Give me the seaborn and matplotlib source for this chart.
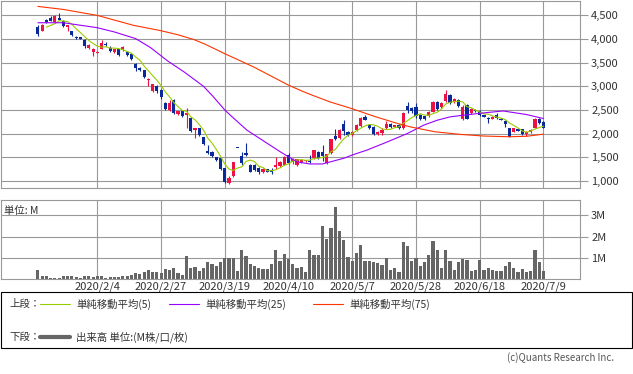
import numpy as np
import pandas as pd
import matplotlib
matplotlib.use("Agg")
import matplotlib.pyplot as plt
import seaborn as sns
from matplotlib.lines import Line2D
from matplotlib.patches import Rectangle

# trading-day index, 0 = 2020/2/4
day_index = list(range(-14, 106))

opens = [
    4250, 4180, 4400, 4440, 4370, 4440, 4390, 4260, 4160, 4050,
    4040, 3990, 3810, 3730, 3710, 3800, 3900, 3810, 3720, 3780,
    3760, 3730, 3690, 3470, 3380, 3340, 3130, 2905, 3010, 2930,
    2650, 2500, 2720, 2410, 2480, 2390, 2340, 2075, 2110, 1920,
    1640, 1620, 1500, 1480, 1270, 960, 1105, 1702, 1520, 1590,
    1340, 1340, 1270, 1180, 1250, 1230, 1290, 1310, 1340, 1560,
    1400, 1340, 1410, 1420, 1420, 1480, 1620, 1620, 1375, 1590,
    1950, 1900, 2200, 2030, 1970, 2070, 2160, 2360, 2180, 2150,
    1990, 2020, 2130, 2200, 2150, 2190, 2110, 2580, 2540, 2560,
    2400, 2370, 2370, 2460, 2670, 2570, 2700, 2810, 2660, 2720,
    2320, 2600, 2430, 2510, 2480, 2390, 2340, 2320, 2400, 2320,
    2270, 2110, 2040, 2100, 2090, 1990, 2030, 2130, 2320, 2250,
]
highs = [
    4300, 4310, 4420, 4490, 4510, 4560, 4410, 4300, 4180, 4060,
    4050, 4000, 3890, 3810, 3740, 3970, 3930, 3850, 3800, 3800,
    3860, 3750, 3700, 3490, 3400, 3350, 3170, 3060, 3030, 2950,
    2670, 2710, 2740, 2490, 2500, 2545, 2350, 2120, 2130, 1940,
    1760, 1640, 1510, 1490, 1280, 1110, 1410, 1702, 1620, 1800,
    1360, 1360, 1290, 1270, 1260, 1280, 1510, 1420, 1520, 1600,
    1480, 1470, 1460, 1450, 1560, 1660, 1640, 1760, 1580, 1890,
    2100, 2100, 2280, 2060, 2060, 2200, 2360, 2400, 2200, 2170,
    2050, 2110, 2260, 2230, 2190, 2200, 2450, 2660, 2570, 2640,
    2420, 2380, 2470, 2700, 2690, 2670, 2920, 2830, 2760, 2740,
    2600, 2620, 2540, 2530, 2510, 2400, 2350, 2370, 2430, 2330,
    2280, 2120, 2120, 2110, 2100, 2050, 2090, 2330, 2340, 2270,
]
lows = [
    4070, 4160, 4340, 4380, 4340, 4400, 4250, 4160, 4060, 4010,
    4000, 3820, 3790, 3640, 3700, 3780, 3860, 3720, 3700, 3650,
    3740, 3640, 3550, 3330, 3320, 3180, 3000, 2890, 2870, 2740,
    2510, 2490, 2410, 2400, 2350, 2110, 2040, 1900, 1950, 1770,
    1580, 1510, 1430, 1240, 950, 930, 1090, 1698, 1330, 1530,
    1190, 1220, 1150, 1160, 1180, 1140, 1250, 1300, 1330, 1360,
    1360, 1320, 1380, 1400, 1380, 1470, 1470, 1420, 1360, 1570,
    1870, 1890, 1970, 1950, 1960, 2060, 2150, 2280, 2100, 1980,
    1980, 1980, 2100, 2110, 2140, 2100, 2100, 2440, 2440, 2340,
    2290, 2290, 2360, 2450, 2500, 2550, 2680, 2620, 2640, 2560,
    2290, 2300, 2420, 2460, 2370, 2350, 2220, 2310, 2320, 2280,
    2150, 1920, 2030, 2050, 1980, 1960, 2020, 2110, 2200, 2110,
]
closes = [
    4110, 4290, 4360, 4390, 4480, 4410, 4270, 4300, 4090, 4020,
    4010, 3850, 3870, 3780, 3730, 3925, 3870, 3740, 3780, 3670,
    3830, 3660, 3570, 3380, 3340, 3200, 3165, 3045, 2905, 2765,
    2530, 2650, 2430, 2480, 2370, 2440, 2060, 2110, 1970, 1790,
    1600, 1530, 1440, 1250, 970, 1060, 1400, 1698, 1370, 1545,
    1200, 1235, 1200, 1250, 1200, 1200, 1330, 1410, 1510, 1375,
    1470, 1460, 1440, 1440, 1400, 1650, 1480, 1520, 1570, 1880,
    1880, 2070, 2050, 1970, 2040, 2180, 2340, 2290, 2120, 2000,
    2030, 2070, 2210, 2150, 2180, 2110, 2440, 2500, 2480, 2380,
    2310, 2300, 2460, 2670, 2530, 2650, 2830, 2640, 2740, 2580,
    2570, 2320, 2530, 2480, 2390, 2360, 2300, 2360, 2340, 2290,
    2200, 1940, 2110, 2060, 1990, 2040, 2080, 2320, 2220, 2130,
]
volume_m = [
    0.43, 0.14, 0.12, 0.07, 0.06, 0.07, 0.12, 0.15, 0.13, 0.10,
    0.07, 0.13, 0.12, 0.10, 0.13, 0.12, 0.06, 0.09, 0.10, 0.08,
    0.12, 0.15, 0.20, 0.27, 0.22, 0.35, 0.42, 0.33, 0.35, 0.27,
    0.45, 0.42, 0.52, 0.30, 0.20, 1.10, 0.50, 0.58, 0.40, 0.52,
    0.78, 0.72, 0.62, 0.80, 1.00, 1.00, 0.98, 0.38, 1.35, 1.10,
    0.72, 0.60, 0.50, 0.45, 0.45, 0.72, 1.35, 0.85, 1.20, 0.95,
    0.70, 0.52, 0.55, 0.33, 1.35, 1.15, 1.15, 2.50, 1.90, 2.40,
    3.40, 2.25, 1.85, 1.02, 0.85, 1.25, 1.60, 0.85, 0.85, 0.80,
    0.75, 0.65, 1.00, 0.42, 0.50, 0.35, 1.75, 1.55, 0.85, 1.00,
    0.60, 0.80, 1.15, 1.80, 1.35, 0.52, 1.35, 0.85, 0.42, 0.80,
    0.95, 0.90, 0.38, 0.42, 0.90, 0.42, 0.50, 0.42, 0.38, 0.38,
    0.60, 0.80, 0.52, 0.35, 0.45, 0.35, 0.38, 1.35, 0.80, 0.38,
]

# 25/75-day moving averages (day index, value)
ma25_days = [-14, -8, -5, 0, 4, 9, 12.5, 16.5, 20.5, 25, 27.3, 30, 31.3, 35.2,
             40, 43, 45, 47, 50, 53, 54, 58, 60, 63.5, 67.4, 73, 76.8, 80,
             83, 86, 91, 95.5, 101, 105]
ma25 = [4345, 4345, 4305, 4240, 4150, 4010, 3820, 3540, 3300, 3000, 2780, 2500,
        2390, 2075, 1795, 1620, 1510, 1405, 1360, 1360, 1385, 1480, 1550, 1655,
        1795, 2005, 2180, 2285, 2355, 2390, 2440, 2480, 2405, 2320]
ma75_days = [-14, -8, 0, 8.5, 14.8, 19, 22.7, 25.4, 30, 36.8, 45, 48.2, 50.1,
             54.8, 59.9, 65.4, 70.5, 73.6, 79.5, 85.4, 91, 97, 101, 105]
ma75 = [4690, 4626, 4500, 4290, 4180, 4090, 3990, 3890, 3690, 3410, 3025, 2900,
        2830, 2670, 2530, 2360, 2220, 2145, 2040, 1985, 1950, 1935, 1945, 1990]

date_ticks = [0, 15, 30, 45, 60, 75, 90, 105]
date_labels = ["2020/2/4", "2020/2/27", "2020/3/19", "2020/4/10",
               "2020/5/7", "2020/5/28", "2020/6/18", "2020/7/9"]
price_ticks = [1000, 1500, 2000, 2500, 3000, 3500, 4000, 4500]
volume_ticks = [1, 2, 3]
volume_labels = ["1M", "2M", "3M"]

UP = "#ee1144"
DOWN = "#0b2a99"
C_MA5 = "#99cc00"
C_MA25 = "#9900ff"
C_MA75 = "#ff3300"
GRID = "#999999"
TXT = "#333333"

sns.set_style("white")
plt.rcParams['font.family'] = ['Noto Sans CJK JP', 'DejaVu Sans']

W, H = 633, 374
fig = plt.figure(figsize=(W / 100, H / 100), dpi=100)


def box(l, t, r, b):
    return [l / W, 1 - b / H, (r - l) / W, (b - t) / H]


ax = fig.add_axes(box(0.5, 0.5, 580, 188))
axv = fig.add_axes(box(0.5, 200, 580, 279))

df = pd.DataFrame(dict(day=day_index, open=opens, high=highs, low=lows,
                       close=closes, volume=volume_m))
df["ma5"] = df["close"].rolling(5, min_periods=3).mean()
colors = np.where(df["close"] >= df["open"], UP, DOWN)

xlim = (-22.8, 113.6)

# price panel
ax.vlines(df["day"], df["low"], df["high"], colors=colors, lw=0.8, zorder=2)
body = (df["close"] - df["open"]).abs().clip(lower=14)
ax.bar(df["day"], body, bottom=np.minimum(df["open"], df["close"]),
       width=0.75, color=colors, lw=0, zorder=2)
sns.lineplot(data=df, x="day", y="ma5", ax=ax, color=C_MA5, lw=0.8, zorder=3)
sns.lineplot(x=ma25_days, y=ma25, ax=ax, color=C_MA25, lw=0.8, zorder=3)
sns.lineplot(x=ma75_days, y=ma75, ax=ax, color=C_MA75, lw=0.8, zorder=3)

ax.set_xlim(*xlim)
ax.set_ylim(852, 4815)
ax.set_xticks(date_ticks)
ax.set_xticklabels([])
ax.set_yticks(price_ticks)
ax.set_yticklabels([f"{v:,}" for v in price_ticks])
ax.yaxis.tick_right()
ax.tick_params(axis="y", length=6, width=0.8, color=GRID, labelsize=8,
               labelcolor=TXT, pad=2)
ax.tick_params(axis="x", length=0)
ax.set_xlabel("")
ax.set_ylabel("")

# volume panel
axv.bar(df["day"], df["volume"], width=0.75, color="#666666", lw=0, zorder=2)
axv.set_xlim(*xlim)
axv.set_ylim(0, 3.73)
axv.set_xticks(date_ticks)
axv.set_xticklabels(date_labels)
axv.set_yticks(volume_ticks)
axv.set_yticklabels(volume_labels)
axv.yaxis.tick_right()
axv.tick_params(axis="y", length=6, width=0.8, color=GRID, labelsize=8,
                labelcolor=TXT, pad=2)
axv.tick_params(axis="x", length=0, labelsize=8, labelcolor=TXT, pad=2)
axv.text(0.006, 0.93, "単位: M", transform=axv.transAxes, va="top",
         ha="left", fontsize=7.5, color=TXT)

for a in (ax, axv):
    a.grid(True, color=GRID, lw=0.8)
    a.set_axisbelow(True)
    for s in a.spines.values():
        s.set_color(GRID)
        s.set_linewidth(0.8)

# legend box
fig.patches.append(Rectangle((0.5 / W, 1 - 348 / H), 631.5 / W, 56 / H,
                             transform=fig.transFigure, fill=False,
                             ec="black", lw=0.8))


def fx(px):
    return px / W


def fy(py):
    return 1 - py / H


row1, row2 = 304, 337
fig.text(fx(9), fy(row1), "上段：", fontsize=7.5, color=TXT, va="center")
legend_items = [(40, C_MA5, "単純移動平均(5)"), (169, C_MA25, "単純移動平均(25)"),
                (313, C_MA75, "単純移動平均(75)")]
for x0, c, label in legend_items:
    fig.add_artist(Line2D([fx(x0), fx(x0 + 30)], [fy(row1), fy(row1)],
                          transform=fig.transFigure, color=c, lw=0.8))
    fig.text(fx(x0 + 36), fy(row1), label, fontsize=7.5, color=TXT, va="center")
fig.text(fx(9), fy(row2), "下段：", fontsize=7.5, color=TXT, va="center")
fig.add_artist(Line2D([fx(40), fx(70)], [fy(row2), fy(row2)],
                      transform=fig.transFigure, color="#666666", lw=3))
fig.text(fx(76), fy(row2), "出来高 単位:(M株/口/枚)", fontsize=7.5, color=TXT, va="center")

fig.text(fx(614), fy(358), "(c)Quants Research Inc.", fontsize=7, color="#555555",
         ha="right", va="center")

fig.savefig("out.png", dpi=100)
